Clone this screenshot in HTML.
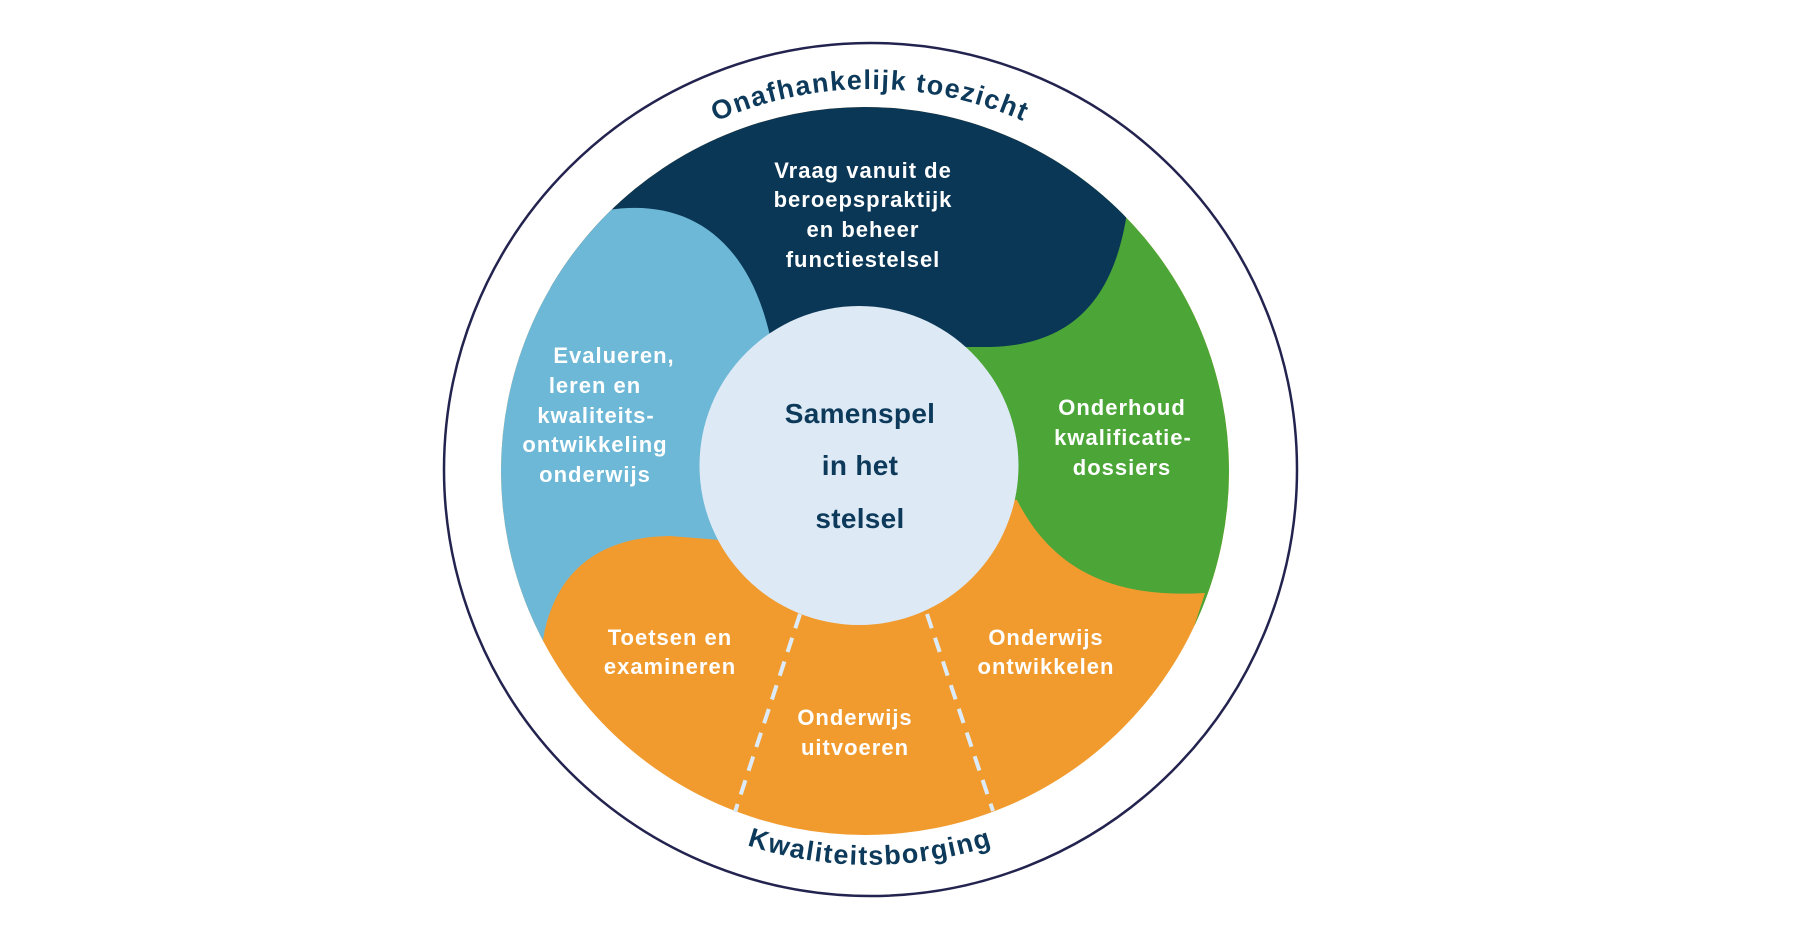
<!DOCTYPE html>
<html>
<head>
<meta charset="utf-8">
<style>
  html, body { margin: 0; padding: 0; background: #ffffff; }
  body { width: 1800px; height: 945px; overflow: hidden; }
  svg { display: block; }
  .lbl { font-family: "Liberation Sans", "DejaVu Sans", sans-serif; font-weight: bold; font-size: 22px; fill: #ffffff; letter-spacing: 1px; }
  .ctr { font-family: "Liberation Sans", "DejaVu Sans", sans-serif; font-weight: bold; font-size: 28px; fill: #0d3a5a; letter-spacing: 0.3px; }
  .arc { font-family: "Liberation Sans", "DejaVu Sans", sans-serif; font-weight: bold; font-size: 27px; fill: #0d3a5a; letter-spacing: 1.4px; }
</style>
</head>
<body>
<svg width="1800" height="945" viewBox="0 0 1800 945" xmlns="http://www.w3.org/2000/svg">
  <defs>
    <clipPath id="disc">
      <circle cx="865" cy="471" r="364"/>
    </clipPath>
    <path id="topArc" d="M 489 470 A 381 381 0 0 1 1251 470"/>
    <path id="botArc" d="M 475 470 A 395 395 0 0 0 1265 470"/>
  </defs>

  <rect x="0" y="0" width="1800" height="945" fill="#ffffff"/>

  <!-- outer ring -->
  <circle cx="870.5" cy="469.5" r="426.5" fill="none" stroke="#23234f" stroke-width="2.5"/>

  <g clip-path="url(#disc)">
    <!-- orange base -->
    <rect x="480" y="90" width="780" height="760" fill="#f19b2f"/>
    <!-- green -->
    <path d="M 1100 60 L 1320 60 L 1320 640 L 1193 630 L 1205 593
             C 1120 598 1055 575 1017 500
             L 860 470 L 960 347 Z" fill="#4ba637"/>
    <!-- dark navy -->
    <path d="M 440 40 L 1320 40 L 1320 150 L 1127 213
             C 1115 290 1080 345 990 347
             L 960 347 L 860 470 L 700 420 L 450 200 Z" fill="#0b3756"/>
    <!-- light blue -->
    <path d="M 470 120 L 560 160 L 608 210
             C 685 198 750 235 772 345
             L 860 470 L 720 540 L 670 536
             C 600 537 555 570 543 640
             L 460 760 L 420 460 Z" fill="#6db8d6"/>
  </g>

  <!-- dashed separators -->
  <line x1="800" y1="614" x2="735" y2="812" stroke="#dcebf7" stroke-width="4" stroke-dasharray="15 10"/>
  <line x1="927" y1="614" x2="993" y2="811" stroke="#dcebf7" stroke-width="4" stroke-dasharray="15 10"/>

  <!-- center circle -->
  <circle cx="859" cy="465.5" r="159.5" fill="#ddeaf6"/>

  <!-- center text -->
  <text class="ctr" x="860" y="423" text-anchor="middle">Samenspel</text>
  <text class="ctr" x="860" y="475" text-anchor="middle">in het</text>
  <text class="ctr" x="860" y="528" text-anchor="middle">stelsel</text>

  <!-- dark navy labels -->
  <text class="lbl" x="863" y="178" text-anchor="middle">Vraag vanuit de</text>
  <text class="lbl" x="863" y="207" text-anchor="middle">beroepspraktijk</text>
  <text class="lbl" x="863" y="237" text-anchor="middle">en beheer</text>
  <text class="lbl" x="863" y="267" text-anchor="middle">functiestelsel</text>

  <!-- light blue labels -->
  <text class="lbl" x="614" y="363" text-anchor="middle">Evalueren,</text>
  <text class="lbl" x="595" y="393" text-anchor="middle">leren en</text>
  <text class="lbl" x="596" y="423" text-anchor="middle">kwaliteits-</text>
  <text class="lbl" x="595" y="452" text-anchor="middle">ontwikkeling</text>
  <text class="lbl" x="595" y="482" text-anchor="middle">onderwijs</text>

  <!-- green labels -->
  <text class="lbl" x="1122" y="415" text-anchor="middle">Onderhoud</text>
  <text class="lbl" x="1123" y="445" text-anchor="middle">kwalificatie-</text>
  <text class="lbl" x="1122" y="475" text-anchor="middle">dossiers</text>

  <!-- orange labels -->
  <text class="lbl" x="670" y="645" text-anchor="middle">Toetsen en</text>
  <text class="lbl" x="670" y="674" text-anchor="middle">examineren</text>

  <text class="lbl" x="1046" y="645" text-anchor="middle">Onderwijs</text>
  <text class="lbl" x="1046" y="674" text-anchor="middle">ontwikkelen</text>

  <text class="lbl" x="855" y="725" text-anchor="middle">Onderwijs</text>
  <text class="lbl" x="855" y="755" text-anchor="middle">uitvoeren</text>

  <!-- arc texts -->
  <text class="arc"><textPath href="#topArc" startOffset="50%" text-anchor="middle">Onafhankelijk toezicht</textPath></text>
  <text class="arc"><textPath href="#botArc" startOffset="50%" text-anchor="middle">Kwaliteitsborging</textPath></text>
</svg>
</body>
</html>
